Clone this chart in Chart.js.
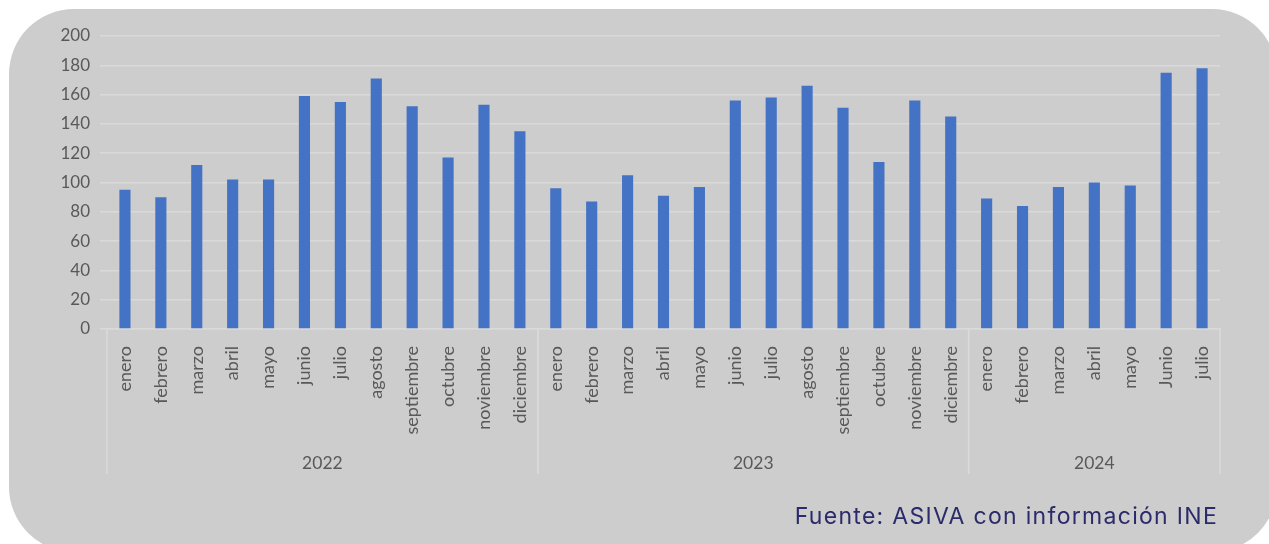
<!DOCTYPE html>
<html lang="es">
<head>
<meta charset="utf-8">
<title>Ventas mensuales 2022-2024</title>
<script src="https://cdn.jsdelivr.net/npm/chart.js@4/dist/chart.umd.min.js"></script>
<style>
    html, body { margin: 0; padding: 0; background: #ffffff; }
    #grafico { display: block; }
</style>
</head>
<body>
<canvas id="grafico" width="1269" height="544"></canvas>
<script>
// datos
const anios = ['2022', '2023', '2024'];
const meses2022 = ['enero', 'febrero', 'marzo', 'abril', 'mayo', 'junio', 'julio', 'agosto', 'septiembre', 'octubre', 'noviembre', 'diciembre'];
const meses2023 = ['enero', 'febrero', 'marzo', 'abril', 'mayo', 'junio', 'julio', 'agosto', 'septiembre', 'octubre', 'noviembre', 'diciembre'];
const meses2024 = ['enero', 'febrero', 'marzo', 'abril', 'mayo', 'Junio', 'julio'];
const valores2022 = [95, 90, 112, 102, 102, 159, 155, 171, 152, 117, 153, 135];
const valores2023 = [96, 87, 105, 91, 97, 156, 158, 166, 151, 114, 156, 145];
const valores2024 = [89, 84, 97, 100, 98, 175, 178];
const ticksY = [0, 20, 40, 60, 80, 100, 120, 140, 160, 180, 200];
const fuente = 'Fuente: ASIVA con información INE';

const gruposMeses = [meses2022, meses2023, meses2024];
const etiquetas = [].concat(meses2022, meses2023, meses2024);
const valores = [].concat(valores2022, valores2023, valores2024);

const colorTexto = '#595959';
const colorLinea = '#dadada';

// fondo gris redondeado
const fondoPlugin = {
    id: 'fondo',
    beforeDraw(chart) {
        const ctx = chart.ctx;
        ctx.save();
        ctx.fillStyle = '#ffffff';
        ctx.fillRect(0, 0, chart.width, chart.height);
        ctx.fillStyle = '#cdcdcd';
        ctx.beginPath();
        ctx.roundRect(9, 9, 1268, 543, 65);
        ctx.fill();
        ctx.restore();
    }
};

// separadores de año, etiquetas de año y nota de fuente
const aniosPlugin = {
    id: 'anios',
    afterDraw(chart) {
        const ctx = chart.ctx;
        const x = chart.scales.x;
        const area = chart.chartArea;
        const mitad = (x.getPixelForValue(1) - x.getPixelForValue(0)) / 2;
        const abajo = 474;
        ctx.save();
        ctx.strokeStyle = colorLinea;
        ctx.lineWidth = 1.5;
        ctx.fillStyle = colorTexto;
        ctx.font = '17.5px Lato';
        ctx.textAlign = 'center';
        ctx.textBaseline = 'middle';
        let inicio = 0;
        gruposMeses.forEach((grupo, i) => {
            const x0 = x.getPixelForValue(inicio) - mitad;
            const x1 = x.getPixelForValue(inicio + grupo.length - 1) + mitad;
            ctx.beginPath();
            ctx.moveTo(x0, area.bottom);
            ctx.lineTo(x0, abajo);
            ctx.moveTo(x1, area.bottom);
            ctx.lineTo(x1, abajo);
            ctx.stroke();
            ctx.fillText(anios[i], (x0 + x1) / 2, 463);
            inicio += grupo.length;
        });
        ctx.fillStyle = '#2b2b6b';
        ctx.font = '23px Inter';
        ctx.letterSpacing = '1.3px';
        ctx.textAlign = 'right';
        ctx.textBaseline = 'alphabetic';
        ctx.fillText(fuente, 1218, 524);
        ctx.restore();
    }
};

const ctx = document.getElementById('grafico').getContext('2d');
const grafico = new Chart(ctx, {
    type: 'bar',
    data: {
        labels: etiquetas,
        datasets: [{
            label: 'Ventas',
            data: valores,
            backgroundColor: '#4472C4',
            borderWidth: 0,
            barPercentage: 0.31,
            categoryPercentage: 1
        }]
    },
    options: {
        responsive: false,
        animation: false,
        layout: {
            padding: { top: 36, right: 49, bottom: 0, left: 0 }
        },
        plugins: {
            legend: { display: false },
            tooltip: { enabled: false }
        },
        scales: {
            x: {
                grid: { display: false },
                border: { display: true, color: colorLinea, width: 1.5 },
                ticks: {
                    autoSkip: false,
                    maxRotation: 90,
                    minRotation: 90,
                    padding: 9,
                    color: colorTexto,
                    font: { family: 'Lato', size: 18 }
                },
                afterFit: function (scale) {
                    scale.height = 215;
                }
            },
            y: {
                min: 0,
                max: 200,
                afterBuildTicks: function (scale) {
                    scale.ticks = ticksY.map(v => ({ value: v }));
                },
                grid: {
                    color: colorLinea,
                    lineWidth: 1.5,
                    drawTicks: true,
                    tickLength: 7
                },
                border: { display: false },
                ticks: {
                    padding: 10,
                    color: colorTexto,
                    font: { family: 'Lato', size: 17 }
                },
                afterFit: function (scale) {
                    scale.width = 107;
                }
            }
        }
    },
    plugins: [fondoPlugin, aniosPlugin]
});
</script>
</body>
</html>
